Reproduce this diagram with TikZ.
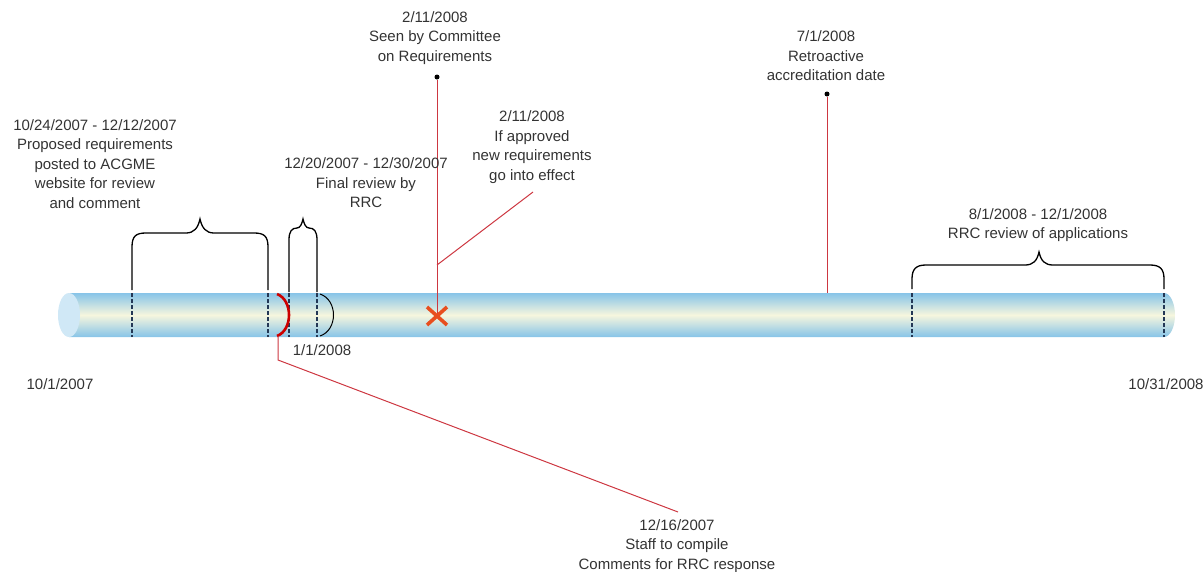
\documentclass[tikz,border=0pt]{standalone}
\usepackage{fontspec}
\setmainfont{Liberation Sans}
\begin{document}
\begin{tikzpicture}[x=1pt,y=-1pt,
  lbl/.style={align=center,inner sep=0pt,font=\fontsize{15}{19.5}\selectfont,text=black!80},
  redline/.style={draw=linered,line width=1pt},
  dashmark/.style={draw=dashnavy,dash pattern=on 3.5pt off 2.5pt,line width=1.2pt},
  bracepath/.style={draw=black,line width=1.3pt},
  dotmark/.style={circle,fill=black,inner sep=0pt,minimum size=5pt}
]
\useasboundingbox (0,0) rectangle (1204,571);
\definecolor{tubeblue}{RGB}{135,196,232}
\definecolor{tubecream}{RGB}{246,246,222}
\definecolor{capblue}{RGB}{208,232,246}
\definecolor{xorange}{RGB}{232,78,30}
\definecolor{linered}{RGB}{205,55,65}
\definecolor{dashnavy}{RGB}{35,55,85}

% tube
\shade[top color=tubeblue,bottom color=tubeblue,middle color=tubecream]
  (69,293) -- (1164,293) arc[start angle=90,end angle=-90,x radius=11pt,y radius=22pt] -- (69,337) -- cycle;
\fill[capblue] (69,315) ellipse[x radius=11pt,y radius=22pt];

% dashed marks inside tube
\foreach \xx in {132,268,289,317,912,1164}
  \draw[dashmark] (\xx,293) -- (\xx,337);

% braces
\draw[bracepath] (132,290) -- (132,247) .. controls (132,236) and (136,233) .. (146,233)
  -- (186,233) .. controls (194,233) and (198,228) .. (200,219)
  .. controls (202,228) and (206,233) .. (214,233) -- (254,233)
  .. controls (264,233) and (268,236) .. (268,247) -- (268,290);
\draw[bracepath] (289,292) -- (289,240) .. controls (289,231) and (292,228) .. (297,228)
  .. controls (300,228) and (302,224) .. (303,219)
  .. controls (304,224) and (306,228) .. (309,228)
  .. controls (314,228) and (317,231) .. (317,240) -- (317,292);
\draw[bracepath] (912,289) -- (912,279) .. controls (912,269) and (916,265) .. (926,265)
  -- (1025,265) .. controls (1033,265) and (1037,261) .. (1039,252)
  .. controls (1041,261) and (1045,265) .. (1053,265) -- (1150,265)
  .. controls (1160,265) and (1164,269) .. (1164,279) -- (1164,289);

% arcs on the tube
\draw[red!80!black,line width=2.6pt] (277,294) .. controls (293,300) and (293,330) .. (277,336);
\draw[black,line width=1pt] (320,294) .. controls (338,300) and (338,330) .. (320,336);

% dots and connectors
\coordinate (xm) at (437,314);
\node[dotmark] (d1) at (437,77) {};
\node[dotmark] (d2) at (827,94) {};
\coordinate (br) at (437,265);
\coordinate (brend) at (533,192);
\coordinate (tubetop) at (827,293);
\coordinate (arcb) at (278,336);
\coordinate (knee) at (278,360);
\coordinate (staffend) at (678,512);
\draw[redline] (d1) -- (xm);
\draw[redline] (br) -- (brend);
\draw[redline] (d2) -- (tubetop);
\draw[redline] (arcb) -- (knee) -- (staffend);

% X mark
\draw[xorange,line width=3.6pt] (427,307) -- (447,325) (447,307) -- (427,325);

% labels
\node[lbl] (t1) at (95,164) {10/24/2007 - 12/12/2007\\Proposed requirements\\posted to ACGME\\website for review\\and comment};
\node[lbl] (t2) at (366,183) {12/20/2007 - 12/30/2007\\Final review by\\RRC};
\node[lbl] (t3) at (435,38) {2/11/2008\\Seen by Committee\\on Requirements};
\node[lbl] (t4) at (532,147) {2/11/2008\\If approved\\new requirements\\go into effect};
\node[lbl] (t5) at (826,56) {7/1/2008\\Retroactive\\accreditation date};
\node[lbl] (t6) at (1038,225) {8/1/2008 - 12/1/2008\\RRC review of applications};
\node[lbl] (t7) at (60,384) {10/1/2007};
\node[lbl] (t8) at (1166,384) {10/31/2008};
\node[lbl] (t9) at (322,350) {1/1/2008};
\node[lbl] (t10) at (677,546) {12/16/2007\\Staff to compile\\Comments for RRC response};
\end{tikzpicture}
\end{document}
